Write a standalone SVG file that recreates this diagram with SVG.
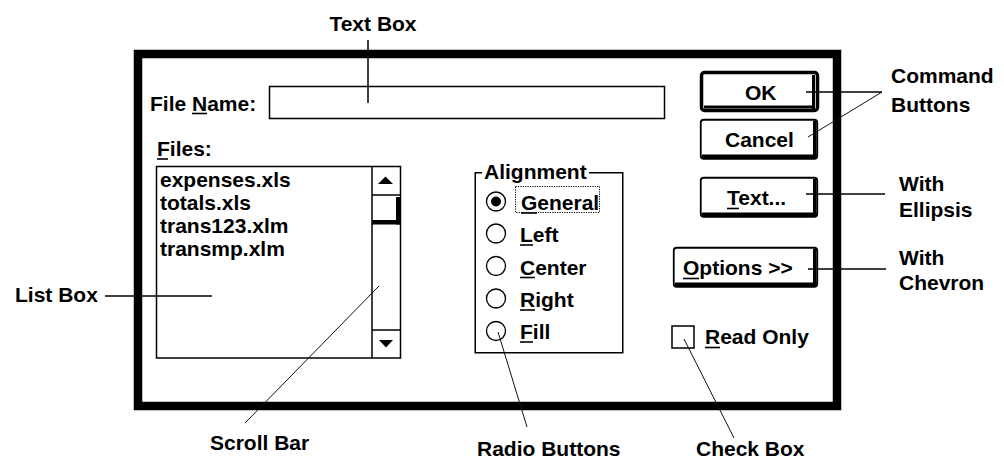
<svg xmlns="http://www.w3.org/2000/svg" width="1004" height="459" viewBox="0 0 1004 459">
<style>
text{font-family:"Liberation Sans",Arial,sans-serif;font-weight:bold;font-size:21px;fill:#000}
.ln{stroke:#000;stroke-width:1.5;fill:none}
.thin{stroke:#111;stroke-width:1;fill:none}
.ul{stroke:#000;stroke-width:1.6}
.box{fill:#fff;stroke:#000;stroke-width:1.5}
.radio{fill:#fff;stroke:#000;stroke-width:1.3}
</style>
<rect width="1004" height="459" fill="#fff"/>
<g id="dialog">
<rect x="138" y="54" width="699" height="352" fill="#fff" stroke="#000" stroke-width="8.5"/>
</g>
<g id="file-name">
<text x="150" y="110.5">File Name:</text>
<line class="ul" x1="192" y1="113.5" x2="207" y2="113.5"/>
<rect class="box" x="269.5" y="86.5" width="395" height="32"/>
</g>
<g id="list-box">
<text x="157" y="156">Files:</text>
<line class="ul" x1="157" y1="159" x2="168" y2="159"/>
<rect class="box" x="156.5" y="166.5" width="244" height="191.5"/>
<text x="160" y="187">expenses.xls</text>
<text x="160" y="210">totals.xls</text>
<text x="160" y="233">trans123.xlm</text>
<text x="160" y="256">transmp.xlm</text>
</g>
<g id="scroll-bar">
<line class="ln" x1="372" y1="166.5" x2="372" y2="358"/>
<line class="ln" x1="372" y1="195" x2="400.5" y2="195"/>
<line class="ln" x1="372" y1="330" x2="400.5" y2="330"/>
<polygon points="378,184 393,184 385.5,176.5" fill="#000"/>
<polygon points="379,340 393,340 386,347.5" fill="#000"/>
<rect x="396" y="197" width="4.5" height="27.5" fill="#000"/>
<rect x="372" y="220" width="28.5" height="4.5" fill="#000"/>
</g>
<g id="alignment">
<path class="ln" d="M482,172.75 H475.25 V352.75 H622.75 V172.75 H589"/>
<text x="484" y="179">Alignment</text>
<g id="radio-general">
<circle class="radio" cx="496" cy="201.5" r="9.5"/>
<circle cx="496" cy="201.5" r="5" fill="#000"/>
<rect x="515.5" y="186.5" width="84" height="26" fill="none" stroke="#000" stroke-width="1" stroke-dasharray="1.2 1.2"/>
<text x="521" y="210">General</text>
<line class="ul" x1="521" y1="213" x2="537" y2="213"/>
</g>
<g id="radio-left">
<circle class="radio" cx="496" cy="233.5" r="9.5"/>
<text x="520" y="242">Left</text>
<line class="ul" x1="520" y1="245" x2="533" y2="245"/>
</g>
<g id="radio-center">
<circle class="radio" cx="496" cy="266" r="9.5"/>
<text x="520" y="274.5">Center</text>
<line class="ul" x1="520" y1="277.5" x2="535" y2="277.5"/>
</g>
<g id="radio-right">
<circle class="radio" cx="496" cy="298.5" r="9.5"/>
<text x="520" y="307">Right</text>
<line class="ul" x1="520" y1="310" x2="535" y2="310"/>
</g>
<g id="radio-fill">
<circle class="radio" cx="496" cy="331" r="9.5"/>
<text x="520" y="339">Fill</text>
<line class="ul" x1="520" y1="342" x2="533" y2="342"/>
</g>
</g>
<g id="btn-ok">
<rect x="701.5" y="72.5" width="116" height="38" rx="3" fill="#fff" stroke="#000" stroke-width="3.5"/>
<rect x="812" y="75" width="3" height="34" fill="#000"/>
<rect x="704" y="105.5" width="111" height="3" fill="#000"/>
<text x="745" y="99.5">OK</text>
</g>
<g id="btn-cancel">
<rect x="700.75" y="119.75" width="116.5" height="39" rx="3" fill="#fff" stroke="#000" stroke-width="1.8"/>
<rect x="813" y="121" width="3.5" height="37" fill="#000"/>
<rect x="702" y="154.5" width="114.5" height="3.5" fill="#000"/>
<text x="725" y="147">Cancel</text>
</g>
<g id="btn-text">
<rect x="700.75" y="177.75" width="116.5" height="39" rx="3" fill="#fff" stroke="#000" stroke-width="1.8"/>
<rect x="813" y="179" width="3.5" height="37" fill="#000"/>
<rect x="702" y="212.5" width="114.5" height="3.5" fill="#000"/>
<text x="727" y="205">Text...</text>
<line class="ul" x1="727" y1="208.5" x2="739" y2="208.5"/>
</g>
<g id="btn-options">
<rect x="673.75" y="247.75" width="143.5" height="39" rx="3" fill="#fff" stroke="#000" stroke-width="1.8"/>
<rect x="813" y="249" width="3.5" height="37" fill="#000"/>
<rect x="675" y="282.5" width="141.5" height="3.5" fill="#000"/>
<text x="683" y="275">Options &gt;&gt;</text>
<line class="ul" x1="683" y1="278.5" x2="699" y2="278.5"/>
</g>
<g id="check-box">
<rect class="box" x="672" y="326" width="22" height="22"/>
<text x="705" y="344">Read Only</text>
<line class="ul" x1="705" y1="347.5" x2="720" y2="347.5"/>
</g>
<g id="connectors">
<line class="ln" x1="368" y1="40" x2="368" y2="103"/>
<line class="ln" x1="105" y1="296" x2="212" y2="296"/>
<line class="thin" x1="379" y1="286" x2="245" y2="423"/>
<line class="thin" x1="498" y1="332" x2="527" y2="427"/>
<line class="thin" x1="684" y1="339" x2="734" y2="438"/>
<line class="ln" x1="806" y1="92" x2="882" y2="92"/>
<line class="thin" x1="882" y1="92" x2="808" y2="137"/>
<line class="ln" x1="806" y1="194" x2="885" y2="194"/>
<line class="ln" x1="808" y1="269" x2="886" y2="269"/>
</g>
<g id="label-text-box"><text x="373" y="31" text-anchor="middle">Text Box</text></g>
<g id="label-list-box"><text x="15" y="302">List Box</text></g>
<g id="label-scroll-bar"><text x="210" y="450">Scroll Bar</text></g>
<g id="label-radio-buttons"><text x="477" y="455.5">Radio Buttons</text></g>
<g id="label-check-box"><text x="696" y="456">Check Box</text></g>
<g id="label-command-buttons"><text x="891" y="83">Command</text><text x="891" y="112">Buttons</text></g>
<g id="label-ellipsis"><text x="899" y="191">With</text><text x="899" y="216.5">Ellipsis</text></g>
<g id="label-chevron"><text x="899" y="264.5">With</text><text x="899" y="290">Chevron</text></g>
</svg>
